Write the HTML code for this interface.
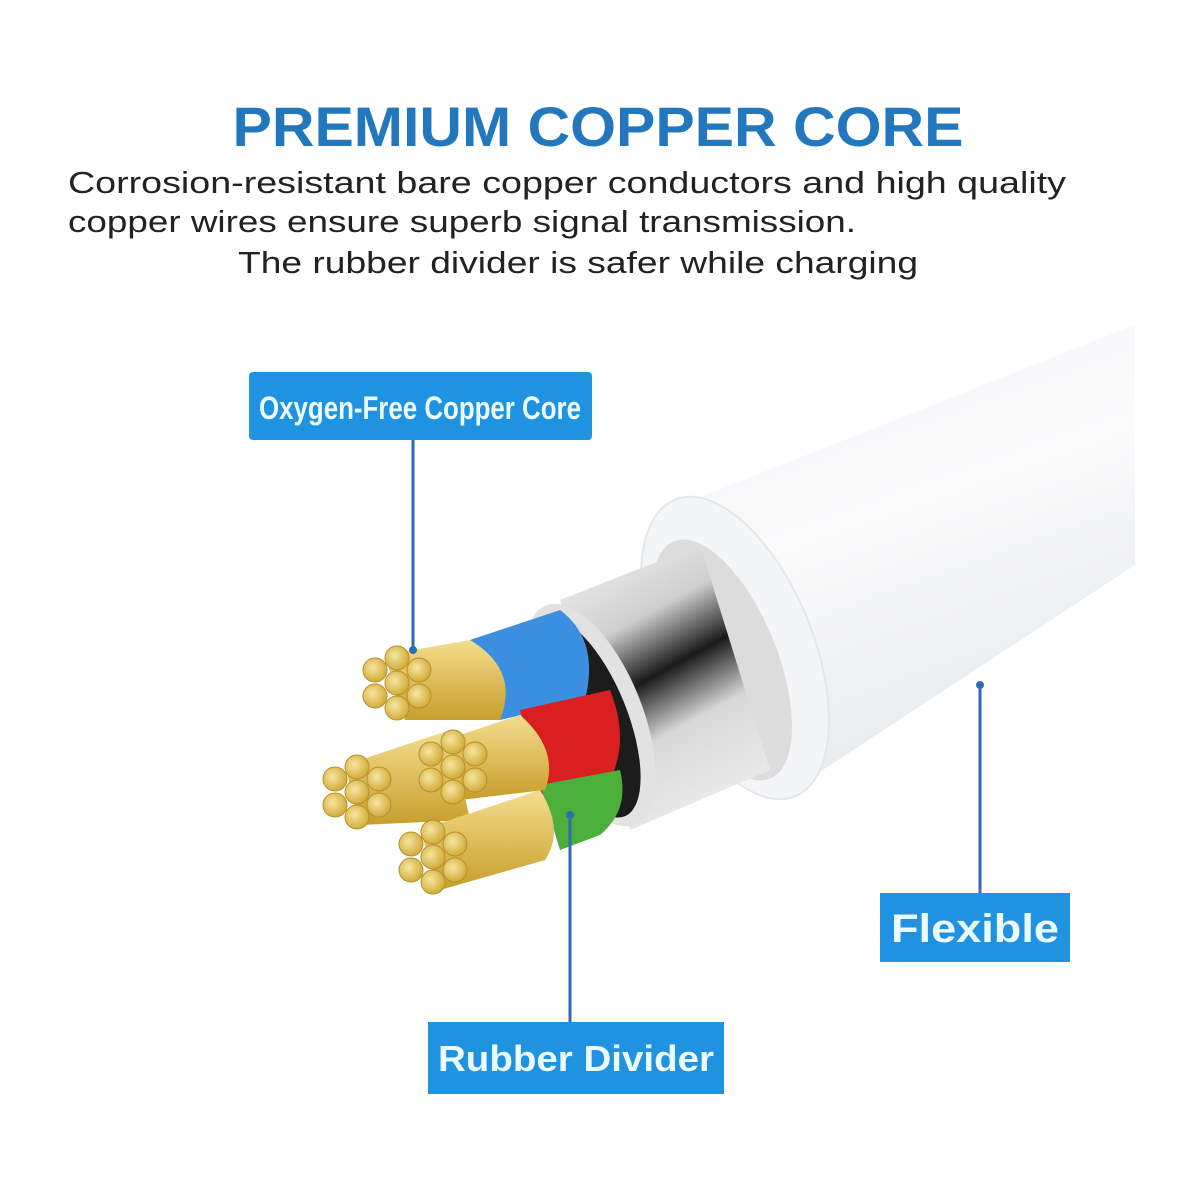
<!DOCTYPE html>
<html><head><meta charset="utf-8"><style>
html,body{margin:0;padding:0;background:#fff;}
body{width:1200px;height:1200px;position:relative;overflow:hidden;font-family:"Liberation Sans",sans-serif;}
.t{position:absolute;white-space:nowrap;}
</style></head><body>
<svg width="1200" height="1200" style="position:absolute;left:0;top:0">
<defs>
<linearGradient id="jk" x1="0" y1="0" x2="0.35" y2="1">
<stop offset="0" stop-color="#f2f3f5"/><stop offset="0.5" stop-color="#fbfbfc"/><stop offset="1" stop-color="#e8eaec"/></linearGradient>
<linearGradient id="sv" x1="0" y1="0" x2="0.4" y2="1">
<stop offset="0" stop-color="#f5f5f5"/><stop offset="0.35" stop-color="#cfcfcf"/><stop offset="0.55" stop-color="#1a1a1a"/><stop offset="0.75" stop-color="#d8d8d8"/><stop offset="1" stop-color="#e8e8e8"/></linearGradient>
<radialGradient id="cu" cx="0.4" cy="0.4" r="0.6"><stop offset="0" stop-color="#f6e6a0"/><stop offset="1" stop-color="#d2ad3c"/></radialGradient>
<linearGradient id="cub" x1="0" y1="0" x2="0" y2="1"><stop offset="0" stop-color="#f3de8e"/><stop offset="1" stop-color="#c89e2c"/></linearGradient>
</defs>
<!-- jacket -->
<path d="M680,505 L1135,325 L1135,565 L800,785 Z" fill="url(#jk)"/>
<ellipse cx="735" cy="648" rx="78" ry="160" transform="rotate(-22 735 648)" fill="#f4f5f6" stroke="#e4e6e8" stroke-width="2"/>
<ellipse cx="722" cy="660" rx="55" ry="128" transform="rotate(-22 722 660)" fill="#dcdcdc"/>
<!-- silver shield -->
<path d="M560,600 L700,545 L770,770 L630,830 Z" fill="url(#sv)"/>
<ellipse cx="590" cy="715" rx="52" ry="118" transform="rotate(-22 590 715)" fill="#e2e2e2"/>
<ellipse cx="585" cy="718" rx="42" ry="106" transform="rotate(-22 585 718)" fill="#1c1c1c"/>
<!-- insulations -->
<path d="M470,640 L560,610 Q600,640 585,700 L500,720 Z" fill="#3c8fe0"/>
<path d="M520,710 L610,690 Q630,740 610,780 L540,795 Z" fill="#d91f1f"/>
<path d="M540,785 L620,770 Q630,810 600,835 L560,850 Z" fill="#4caf3c"/>
<!-- copper bodies -->
<g fill="url(#cub)">
<path d="M385,655 L470,640 Q520,670 500,720 L405,720 Z"/>
<path d="M445,740 L520,715 Q560,750 545,790 L460,800 Z"/>
<path d="M345,765 L450,730 L470,820 L360,825 Z"/>
<path d="M420,830 L540,790 Q565,830 545,860 L440,890 Z"/>
</g>
<g fill="url(#cu)" stroke="#b8902a" stroke-width="1">
<circle cx="397" cy="683" r="12"/><circle cx="397" cy="658" r="12"/><circle cx="397" cy="708" r="12"/><circle cx="375" cy="670" r="12"/><circle cx="375" cy="696" r="12"/><circle cx="419" cy="670" r="12"/><circle cx="419" cy="696" r="12"/>
<circle cx="357" cy="792" r="12"/><circle cx="357" cy="767" r="12"/><circle cx="357" cy="817" r="12"/><circle cx="335" cy="779" r="12"/><circle cx="335" cy="805" r="12"/><circle cx="379" cy="779" r="12"/><circle cx="379" cy="805" r="12"/>
<circle cx="453" cy="767" r="12"/><circle cx="453" cy="742" r="12"/><circle cx="453" cy="792" r="12"/><circle cx="431" cy="754" r="12"/><circle cx="431" cy="780" r="12"/><circle cx="475" cy="754" r="12"/><circle cx="475" cy="780" r="12"/>
<circle cx="433" cy="857" r="12"/><circle cx="433" cy="832" r="12"/><circle cx="433" cy="882" r="12"/><circle cx="411" cy="844" r="12"/><circle cx="411" cy="870" r="12"/><circle cx="455" cy="844" r="12"/><circle cx="455" cy="870" r="12"/>
</g>
<!-- connectors -->
<g stroke="#2d6db3" stroke-width="3">
<line x1="413" y1="440" x2="413" y2="650"/>
<line x1="570" y1="815" x2="570" y2="1022"/>
<line x1="980" y1="685" x2="980" y2="893"/>
</g>
<g fill="#2d6db3"><circle cx="413" cy="650" r="4"/><circle cx="570" cy="815" r="4"/><circle cx="980" cy="685" r="4"/></g>
<!-- boxes -->
<rect x="249" y="372" width="343" height="68" rx="4" fill="#1f93e0"/>
<rect x="428" y="1022" width="296" height="72" fill="#1f93e0"/>
<rect x="880" y="893" width="190" height="69" fill="#1f93e0"/>
<text x="420" y="419" text-anchor="middle" font-family="Liberation Sans Narrow, Liberation Sans, sans-serif" font-size="32" font-weight="bold" fill="#eafaff" textLength="322" lengthAdjust="spacingAndGlyphs">Oxygen-Free  Copper Core</text>
<text x="576" y="1071" text-anchor="middle" font-size="36" font-weight="bold" fill="#eafaff" textLength="276" lengthAdjust="spacingAndGlyphs">Rubber Divider</text>
<text x="975" y="942" text-anchor="middle" font-size="40" font-weight="bold" fill="#eafaff" textLength="168" lengthAdjust="spacingAndGlyphs">Flexible</text>
<!-- header -->
<text x="598" y="146" text-anchor="middle" font-size="56" font-weight="bold" fill="#2378bd" textLength="731" lengthAdjust="spacingAndGlyphs">PREMIUM COPPER CORE</text>
<g font-size="31" fill="#222">
<text x="68" y="193" textLength="998" lengthAdjust="spacingAndGlyphs">Corrosion-resistant bare copper conductors and high quality</text>
<text x="68" y="232" textLength="788" lengthAdjust="spacingAndGlyphs">copper wires ensure superb signal transmission.</text>
<text x="238" y="273" textLength="680" lengthAdjust="spacingAndGlyphs">The rubber divider is safer while charging</text>
</g>
</svg>
</body></html>
